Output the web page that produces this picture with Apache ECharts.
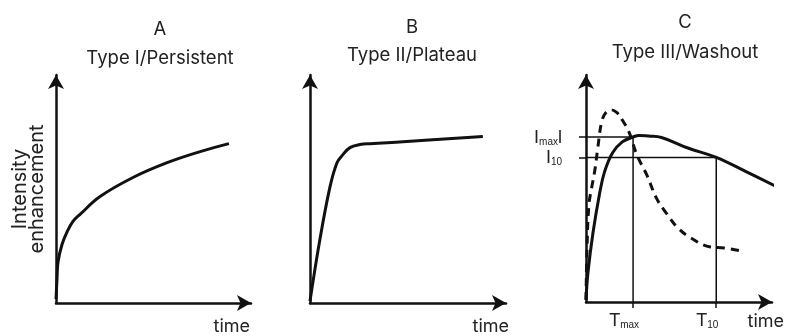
<!DOCTYPE html>
<html><head><meta charset="utf-8">
<script src="https://cdn.jsdelivr.net/npm/echarts@6/dist/echarts.min.js"></script>
<style>html,body{margin:0;padding:0;background:#fff}#c{width:787px;height:336px}</style>
</head><body><div id="c"></div>
<script>
// ---- text ----
const panelLetters = ['A', 'B', 'C'];
const panelTitles = ['Type I/Persistent', 'Type II/Plateau', 'Type III/Washout'];
const xAxisName = 'time';
const yAxisName = 'Intensity\nenhancement';

// ---- data (arbitrary units: time 0-100, intensity 0-100) ----
const persistentCurve = [[0,1.7],[0.5,10.2],[1.0,17.4],[3.0,25.0],[5.4,30.1],[8.4,34.7],[11.9,37.7],[21.8,45.3],[38.1,53.4],[55.0,59.7],[71.3,64.4],[85.6,67.8]];
const plateauCurve = [[0,0.8],[4.9,27.1],[9.9,49.6],[13.3,59.7],[15.8,62.7],[19.7,66.1],[24.6,67.4],[29.6,67.8],[45.8,68.6],[85.2,70.8]];
const washoutCurve = [[0,0.9],[1.0,12.4],[3.6,29.5],[7.1,46.6],[9.6,55.6],[13.7,63.7],[18.8,68.4],[24.4,70.5],[27.4,71.2],[32.5,70.9],[39.1,70.3],[52.8,65.8],[67.5,61.8],[83.2,55.6],[98.0,49.6]];
const fastWashoutCurve = [[0,0.9],[0.5,22.2],[1.5,41.5],[3.0,49.1],[4.6,56.4],[6.1,65.8],[8.1,76.9],[10.2,80.8],[13.2,82.1],[16.2,80.8],[18.8,77.8],[22.3,72.6],[26.4,62.8],[31.5,54.3],[36.5,44.4],[41.6,38.0],[47.7,31.6],[54.3,27.4],[64.5,23.5],[71.6,23.1],[80.7,21.8]];
const markerTimes = [24.4, 67.5];
const markerTimeLabels = [['T', 'max'], ['T', '10']];
const markerIntensities = [70.5, 61.8];
const markerIntensityLabels = [['I', 'max', 'l'], ['I', '10', '']];

// ---- layout ----
const INK = '#111';
const TXT = '#222';
const FONT = 'Inter';
const grids = [
  {left: 56, top: 75, width: 195, height: 229},
  {left: 310, top: 75, width: 196, height: 229},
  {left: 586, top: 75, width: 190, height: 227}
];
const xMax = [96.5, 96.6, 96.4];
const yMax = [97, 97, 97];

const axisLine = {onZero: false, symbol: ['none', 'arrow'], symbolSize: [12, 14], lineStyle: {color: INK, width: 2.5}};
const rich = {
  b: {fontFamily: 'Liberation Sans', fontSize: 18, color: TXT, lineHeight: 20, verticalAlign: 'bottom'},
  s: {fontFamily: 'Liberation Sans', fontSize: 10, color: TXT, lineHeight: 20, verticalAlign: 'bottom', padding: [9, 0, 0, 0]}
};
function lbl(parts) {
  return '{b|' + parts[0] + '}{s|' + parts[1] + '}' + (parts[2] ? '{b|' + parts[2] + '}' : '');
}

const nameGaps = [-1, 3, 12];
const namePadTop = [15, 15, 11];
const xAxes = grids.map((g, i) => {
  const ax = {
    type: 'value', gridIndex: i, min: 0, max: xMax[i],
    name: xAxisName, nameLocation: 'end', nameGap: nameGaps[i],
    nameTextStyle: {fontFamily: FONT, fontSize: 18, color: TXT, align: 'right', verticalAlign: 'top', padding: [namePadTop[i], 0, 0, 0]},
    axisLine: axisLine, axisTick: {show: false}, axisLabel: {show: false}, splitLine: {show: false}
  };
  if (i === 2) {
    ax.axisTick = {show: true, customValues: markerTimes, length: 6, lineStyle: {color: INK, width: 1.5}};
    ax.axisLabel = {show: true, customValues: markerTimes, margin: 8, padding: [0, 18, 0, 0],
      formatter: v => lbl(markerTimeLabels[markerTimes.indexOf(v)]), rich: rich};
  }
  return ax;
});
const yAxes = grids.map((g, i) => {
  const ax = {
    type: 'value', gridIndex: i, min: 0, max: yMax[i],
    axisLine: axisLine, axisTick: {show: false}, axisLabel: {show: false}, splitLine: {show: false}
  };
  if (i === 0) {
    ax.name = yAxisName; ax.nameLocation = 'middle'; ax.nameGap = 11; ax.nameRotate = 90;
    ax.nameTextStyle = {fontFamily: FONT, fontSize: 20, lineHeight: 17, color: TXT};
  }
  if (i === 2) {
    ax.axisTick = {show: true, customValues: markerIntensities, length: 7, lineStyle: {color: INK, width: 1.5}};
    ax.axisLabel = {show: true, customValues: markerIntensities, margin: 24,
      formatter: v => lbl(markerIntensityLabels[markerIntensities.indexOf(v)]), rich: rich};
  }
  return ax;
});

const titleCx = [160, 412, 685];
const letterCy = [29, 27, 22];
const titleCy = [58, 55, 52];
const titles = [];
panelLetters.forEach((t, i) => titles.push({text: t, left: titleCx[i], top: letterCy[i], padding: 0, textAlign: 'center', textVerticalAlign: 'middle',
  textStyle: {fontFamily: FONT, fontSize: 18.5, fontWeight: 'normal', color: TXT}}));
panelTitles.forEach((t, i) => titles.push({text: t, left: titleCx[i], top: titleCy[i], padding: 0, textAlign: 'center', textVerticalAlign: 'middle',
  textStyle: {fontFamily: FONT, fontSize: 18.5, fontWeight: 'normal', color: TXT}}));

function curve(data, gi, dashed) {
  return {type: 'line', xAxisIndex: gi, yAxisIndex: gi, data: data, smooth: 0.4, symbol: 'none', z: 3,
    lineStyle: {color: INK, width: 3, type: dashed ? [8, 6] : 'solid', cap: 'butt'}};
}
function refLine(t, v) {
  return {type: 'line', xAxisIndex: 2, yAxisIndex: 2, data: [[0, v], [t, v], [t, 0]], symbol: 'none', z: 2,
    lineStyle: {color: INK, width: 1.5}};
}

const chart = echarts.init(document.getElementById('c'), null, {renderer: 'canvas'});
chart.setOption({
  animation: false,
  backgroundColor: '#fff',
  title: titles,
  grid: grids,
  xAxis: xAxes,
  yAxis: yAxes,
  series: [
    curve(persistentCurve, 0, false),
    curve(plateauCurve, 1, false),
    refLine(markerTimes[0], markerIntensities[0]),
    refLine(markerTimes[1], markerIntensities[1]),
    curve(washoutCurve, 2, false),
    curve(fastWashoutCurve, 2, true)
  ]
});
</script></body></html>
